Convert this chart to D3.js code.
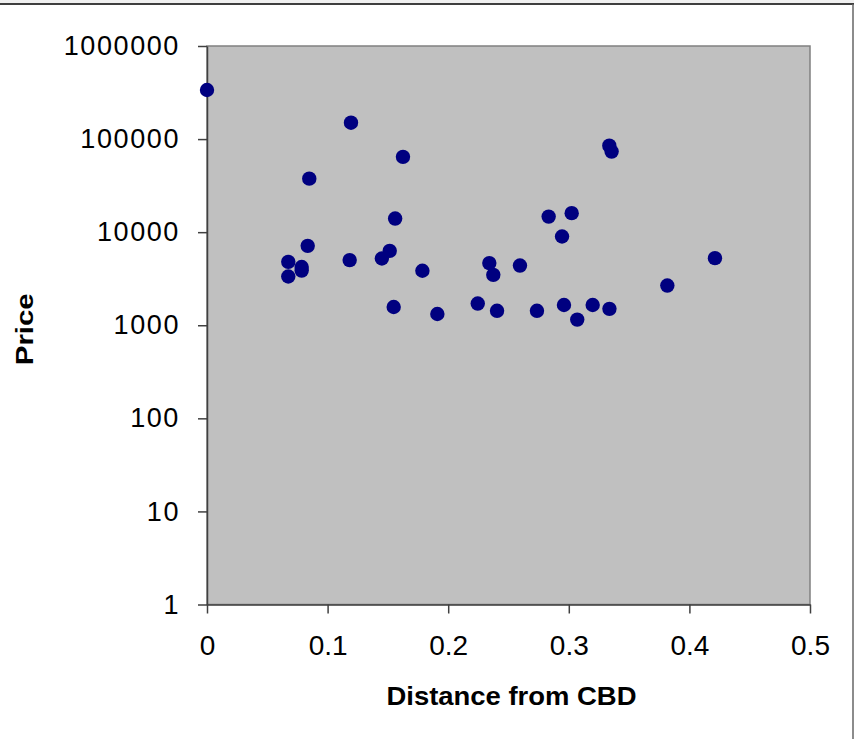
<!DOCTYPE html>
<html lang="en">
<head>
  <meta charset="UTF-8">
  <title>Price vs Distance from CBD</title>
  <script src="https://d3js.org/d3.v7.min.js"></script>
  <style>
    body { margin: 0; background: white; font-family: "Liberation Sans", Arial, sans-serif; }
    svg text { fill: #000; }
  </style>
</head>
<body>
  <svg id="chart" width="854" height="739"></svg>

  <script>
    // values
    const distance = [0, 0.1194, 0.1625, 0.0848, 0.156, 0.0835, 0.0674, 0.0785, 0.0785, 0.0674,
      0.1183, 0.1515, 0.145, 0.1786, 0.1548, 0.191, 0.2245, 0.3336, 0.3355, 0.2833,
      0.3024, 0.2944, 0.2341, 0.2374, 0.2595, 0.4212, 0.3817, 0.2405, 0.2736, 0.296,
      0.307, 0.3198, 0.3337];
    const price = [337000, 150000, 64400, 37600, 14000, 7130, 4800, 4220, 3870, 3340,
      5010, 6300, 5210, 3850, 1570, 1320, 1710, 85000, 73400, 14700,
      16000, 8980, 4650, 3480, 4380, 5260, 2670, 1430, 1430, 1650,
      1150, 1650, 1500];
    const xTicks = [0, 0.1, 0.2, 0.3, 0.4, 0.5];
    const yTicks = [1, 10, 100, 1000, 10000, 100000, 1000000];

    const svg = d3.select("#chart"),
      margin = {top: 46, right: 44, bottom: 134.5, left: 207},
      width = +svg.attr("width") - margin.left - margin.right,
      height = +svg.attr("height") - margin.top - margin.bottom;

    // outer frame bits
    svg.append("rect").attr("x", 0).attr("y", 0).attr("width", 854).attr("height", 3.5).attr("fill", "#f0f0f0");
    svg.append("line").attr("x1", 0).attr("x2", 854).attr("y1", 4).attr("y2", 4)
      .attr("stroke", "#000").attr("stroke-width", 1.5);
    svg.append("line").attr("x1", 853).attr("x2", 853).attr("y1", 4).attr("y2", 739)
      .attr("stroke", "#666").attr("stroke-width", 1.5);

    const chart = svg.append("g")
      .attr("transform", `translate(${margin.left},${margin.top})`);

    const x = d3.scaleLinear().domain([0, 0.5]).range([0, width]);
    const y = d3.scaleLog().domain([1, 1000000]).range([height, 0]);

    chart.append("rect")
      .attr("width", width).attr("height", height)
      .attr("fill", "#c0c0c0")
      .attr("stroke", "#808080").attr("stroke-width", 1.5);

    const xAxis = chart.append("g")
      .attr("transform", `translate(0,${height})`)
      .call(d3.axisBottom(x).tickValues(xTicks).tickFormat(d3.format("")).tickSizeInner(9).tickSizeOuter(0));
    xAxis.selectAll("text")
      .attr("y", 31).attr("dy", "0.71em")
      .style("font-size", "28px");

    const yAxis = chart.append("g")
      .call(d3.axisLeft(y).tickValues(yTicks).tickFormat(d3.format("d")).tickSizeInner(9).tickSizeOuter(0));
    yAxis.selectAll("text")
      .attr("x", -27)
      .style("font-size", "27px")
      .style("letter-spacing", "1.6px");

    svg.selectAll(".domain, .tick line")
      .attr("stroke", "#404040").attr("stroke-width", 1.5);

    chart.selectAll("circle")
      .data(distance.map((d, i) => ({dist: d, price: price[i]})))
      .enter().append("circle")
      .attr("cx", d => x(d.dist))
      .attr("cy", d => y(d.price))
      .attr("rx", 7.5)
      .attr("r", 7.2)
      .attr("fill", "#000080");

    chart.append("text")
      .attr("x", width / 2 + 3).attr("y", height + 100)
      .attr("text-anchor", "middle")
      .attr("textLength", 250).attr("lengthAdjust", "spacingAndGlyphs")
      .style("font-size", "25px").style("font-weight", "bold")
      .text("Distance from CBD");

    chart.append("text")
      .attr("transform", "rotate(-90)")
      .attr("x", -height / 2 - 4).attr("y", -174)
      .attr("text-anchor", "middle")
      .attr("textLength", 72).attr("lengthAdjust", "spacingAndGlyphs")
      .style("font-size", "24px").style("font-weight", "bold")
      .text("Price");
  </script>
</body>
</html>
